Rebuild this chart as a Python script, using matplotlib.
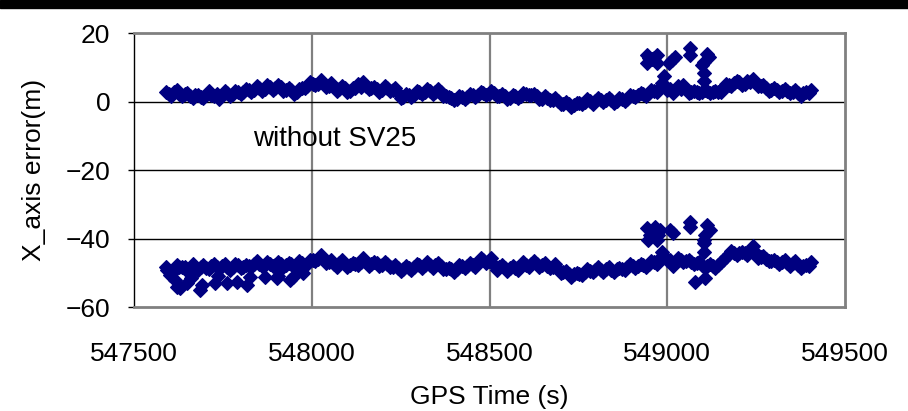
import numpy as np
import matplotlib
matplotlib.use("Agg")
import matplotlib.pyplot as plt
from matplotlib.patches import Rectangle

# ---- data ----
times = np.arange(547590, 549406, 15)          # main samples
mid_times = np.arange(547597.5, 549405, 15)    # samples in between

err_with = [
    2.9, 1.6, 3.4, 1.7, 2.6, 1.0, 2.0, 0.9, 3.0, 1.5,
    0.8, 3.0, 1.7, 3.2, 2.2, 3.7, 2.7, 4.4, 3.2, 4.7,
    3.4, 4.7, 3.1, 3.9, 2.2, 3.7, 3.8, 5.6, 4.7, 6.4,
    4.3, 5.3, 3.2, 4.6, 2.7, 3.8, 5.0, 5.6, 3.6, 4.3,
    2.9, 4.5, 3.1, 3.9, 1.1, 2.3, 1.2, 3.2, 2.3, 3.7,
    2.2, 3.7, 1.7, 1.3, 0.3, 1.5, 0.7, 2.3, 1.3, 2.8,
    1.9, 3.2, 1.5, 2.3, 0.6, 1.8, 1.0, 2.6, 1.9, 2.2,
    0.6, 1.5, 0.3, 1.0, -0.7, -0.1, -1.5, -0.3, -0.7, 0.7,
    -0.6, 1.0, -0.2, 0.9, -0.3, 1.0, 0.1, 1.8, 1.3, 2.6,
    1.7, 3.4, 2.8, 5.5, 3.4, 2.5, 4.4, 4.8, 2.4, 3.1,
    2.4, 3.5, 2.4, 3.1, 2.9, 5.2, 4.5, 6.1, 4.9, 5.9,
    6.5, 4.5, 4.8, 3.2, 3.9, 2.9, 3.6, 2.4, 3.5, 1.7,
    2.7, 3.4,
]
err_with_mid = [
    2.2, 2.7, 2.2, 2.3, 1.6, 1.8, 1.2, 2.0, 2.0, 2.1,
    1.8, 2.6, 2.2, 2.9, 2.7, 3.3, 3.3, 3.9, 3.7, 4.2,
    3.8, 4.1, 3.4, 3.3, 2.7, 3.8, 4.4, 5.2, 5.2, 5.4,
    4.5, 4.3, 3.7, 3.8, 3.1, 3.9, 4.3, 4.6, 3.8, 3.7,
    3.5, 3.8, 3.3, 2.5, 1.4, 1.9, 2.0, 2.9, 2.8, 3.1,
    2.7, 2.8, 1.6, 1.1, 0.8, 1.2, 1.3, 2.0, 1.9, 2.4,
    2.3, 2.5, 1.7, 1.6, 1.1, 1.5, 1.6, 2.3, 2.0, 1.5,
    0.8, 1.0, 0.5, 0.2, -0.6, -0.7, -1.0, -0.4, -0.1, 0.2,
    0.1, 0.5, 0.3, 0.4, 0.2, 0.6, 0.8, 1.6, 1.8, 2.3,
    2.4, 3.1, 3.6, 4.5, 3.6, 3.3, 3.6, 3.6, 2.9, 2.8,
    2.8, 3.1, 2.7, 2.9, 4.0, 4.8, 5.3, 5.6, 5.2, 5.6,
    5.6, 4.6, 4.0, 3.5, 3.4, 3.2, 3.1, 2.8, 2.6, 2.4,
    2.6,
]

err_without = [
    -48.3, -50.5, -47.6, -48.2, -49.5, -47.5, -49.2, -47.8, -48.9, -47.4,
    -48.9, -47.3, -49.2, -47.3, -48.5, -47.8, -48.2, -46.7, -48.1, -46.9,
    -48.1, -46.9, -48.2, -47.1, -48.2, -46.7, -47.9, -46.3, -46.7, -44.8,
    -47.2, -46.3, -48.2, -46.3, -48.2, -47.1, -47.7, -45.8, -48.0, -46.8,
    -47.9, -47.0, -48.4, -47.8, -49.4, -48.0, -49.2, -47.3, -48.5, -46.8,
    -48.5, -47.1, -48.9, -48.5, -49.9, -47.8, -48.6, -47.2, -48.2, -45.8,
    -47.2, -45.8, -49.1, -47.7, -49.4, -48.0, -49.2, -47.0, -48.2, -46.5,
    -48.2, -47.1, -48.7, -47.5, -50.2, -49.5, -51.2, -50.1, -50.7, -48.8,
    -49.9, -48.3, -49.9, -48.3, -49.9, -48.5, -49.2, -47.5, -48.7, -47.3,
    -48.2, -46.5, -47.5, -44.0, -46.2, -47.9, -45.8, -46.9, -46.3, -47.5,
    -46.8, -48.7, -47.3, -48.7, -46.8, -45.5, -43.6, -44.9, -43.8, -44.7,
    -42.3, -45.7, -45.1, -46.7, -46.3, -47.5, -46.3, -47.9, -46.5, -48.7,
    -47.6, -46.9,
]
err_without_mid = [
    -49.6, -49.3, -48.2, -48.4, -48.7, -48.5, -48.3, -48.5, -48.0, -48.3,
    -47.9, -48.4, -48.2, -47.8, -48.3, -47.9, -47.5, -47.3, -47.6, -47.3,
    -47.7, -47.4, -47.8, -47.5, -47.6, -47.2, -47.3, -46.4, -45.9, -46.0,
    -46.8, -47.3, -47.2, -47.4, -47.6, -47.3, -46.8, -46.9, -47.5, -47.2,
    -47.6, -47.5, -48.2, -48.5, -48.8, -48.5, -48.3, -47.8, -47.7, -47.7,
    -47.7, -48.1, -48.8, -49.0, -48.9, -48.1, -48.0, -47.6, -47.0, -46.3,
    -46.7, -47.6, -48.3, -48.6, -48.6, -48.6, -48.0, -47.6, -47.3, -47.4,
    -47.7, -47.9, -48.2, -48.9, -49.9, -50.4, -50.5, -50.5, -49.8, -49.4,
    -49.1, -49.2, -49.0, -49.2, -49.0, -48.9, -48.4, -48.1, -48.0, -47.7,
    -47.3, -47.0, -46.0, -45.3, -46.4, -46.8, -46.3, -46.7, -46.9, -47.1,
    -47.8, -48.0, -47.9, -47.8, -46.2, -44.6, -44.3, -44.3, -44.3, -43.6,
    -44.0, -45.4, -45.9, -46.5, -46.9, -46.9, -47.1, -47.2, -47.6, -48.1,
    -47.9,
]

# scattered points below the band (early part, without SV25)
scat_t = [547592, 547601, 547615, 547620, 547629, 547650, 547660, 547686, 547692,
          547728, 547737, 547761, 547789, 547817, 547826, 547868, 547901, 547906,
          547939, 547948, 547976]
scat_v = [-49.2, -50.7, -52.1, -54.1, -54.5, -53.0, -51.5, -55.0, -53.5,
          -53.1, -51.0, -53.1, -52.6, -53.6, -51.1, -51.1, -51.6, -50.8,
          -52.1, -51.2, -50.2]

# outliers (with SV25)
out1_t = [548942, 548970, 548956, 548942, 548970, 548948, 548964, 548990,
          549006, 549012, 549022, 549064, 549064,
          549111, 549118, 549102, 549097, 549103, 549103]
out1_v = [13.6, 13.6, 12.4, 11.2, 11.2, 12.8, 12.8, 7.5,
          11.2, 12.1, 13.1, 15.5, 13.6,
          13.9, 13.1, 11.6, 10.7, 8.4, 6.1]

# outliers (without SV25)
out2_t = [548942, 548966, 548980, 548952, 548975, 548947, 548970,
          549008, 549017, 549064, 549064,
          549113, 549120, 549106, 549102, 549103, 549103,
          549078, 549106]
out2_v = [-37.0, -36.5, -37.5, -39.0, -39.0, -40.4, -40.4,
          -37.5, -38.5, -35.1, -36.5,
          -36.1, -37.5, -39.0, -40.4, -41.4, -43.8,
          -52.6, -51.6]

x_ticks = [547500, 548000, 548500, 549000, 549500]
y_ticks = [20, 0, -20, -40, -60]
label_text = "without SV25"

# ---- figure ----
plt.rcParams['font.family'] = ['Liberation Sans', 'DejaVu Sans']
fig = plt.figure(figsize=(9.08, 4.11), dpi=100)
fig.patches.append(Rectangle((0, 1 - 8 / 411), 1, 8 / 411, transform=fig.transFigure,
                             color='black', zorder=0))
ax = fig.add_axes([0.1476, 0.2530, 0.7830, 0.6667])

navy = '#000080'
mk = dict(linestyle='none', marker='D', ms=7.0, color=navy, mec=navy, mew=0.8, zorder=3)
ax.plot(times, err_with, **mk)
ax.plot(mid_times, err_with_mid, **mk)
ax.plot(times, err_without, **mk)
ax.plot(mid_times, err_without_mid, **mk)
ax.plot(scat_t, scat_v, **mk)
ax.plot(out1_t, out1_v, **mk)
ax.plot(out2_t, out2_v, **mk)

ax.set_xlim(547500, 549500)
ax.set_ylim(-60, 20)
ax.set_xticks(x_ticks)
ax.set_yticks(y_ticks)
ax.set_xticklabels([str(v) for v in x_ticks])
ax.set_yticklabels([f"{v}".replace('-', '\u2212') for v in y_ticks])

for v in [548000, 548500, 549000]:
    ax.axvline(v, color='#808080', lw=1.6, zorder=1)
for v in [0, -20, -40]:
    ax.axhline(v, color='black', lw=1.0, zorder=1)

ax.spines['left'].set_color('black')
ax.spines['left'].set_linewidth(1.0)
for s in ['top', 'right', 'bottom']:
    ax.spines[s].set_color('#808080')
    ax.spines[s].set_linewidth(2.0)

ax.tick_params(axis='y', length=4, width=1, direction='out', labelsize=19, pad=13)
ax.tick_params(axis='x', length=0, labelsize=19, pad=25)

ax.set_xlabel("GPS Time (s)", fontsize=19, labelpad=14)
ax.set_ylabel("X_axis error(m)", fontsize=19, labelpad=14)
ax.text(548065, -10.9, label_text, fontsize=20, ha='center', va='center', zorder=4)

fig.savefig("out.png", dpi=100)
